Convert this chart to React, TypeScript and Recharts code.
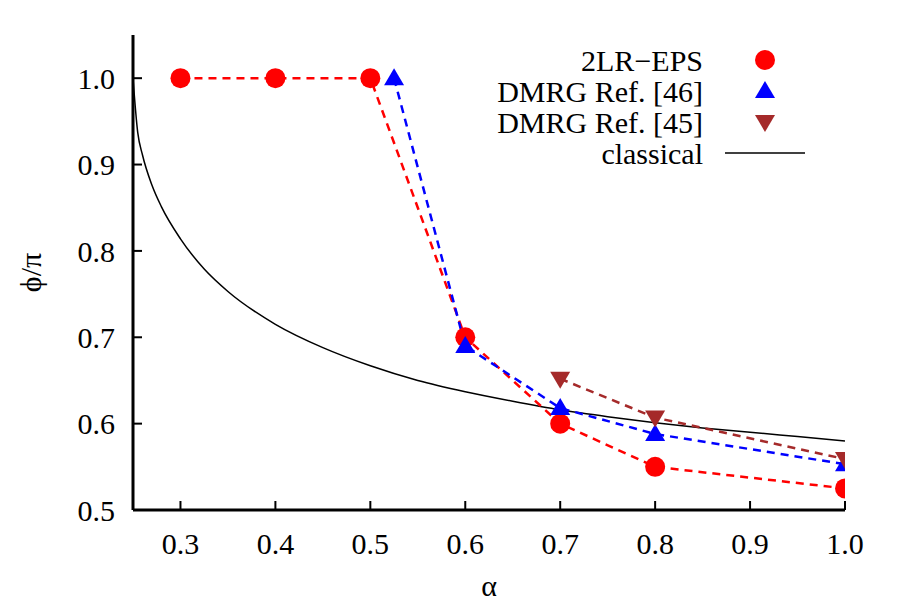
import React from "react";
import { ComposedChart, Line, XAxis, YAxis, Legend } from "recharts";

// phase angle phi/pi versus coupling alpha
const alphaTicks = [0.3, 0.4, 0.5, 0.6, 0.7, 0.8, 0.9, 1.0];
const phiTicks = [0.5, 0.6, 0.7, 0.8, 0.9, 1.0];

const epsAlpha = [0.3, 0.4, 0.5, 0.6, 0.7, 0.8, 1.0];
const epsPhi = [1.0, 1.0, 1.0, 0.7, 0.6, 0.55, 0.525];

const dmrg46Alpha = [0.525, 0.6, 0.7, 0.8, 1.0];
const dmrg46Phi = [1.0, 0.69, 0.618, 0.588, 0.553];

const dmrg45Alpha = [0.7, 0.8, 1.0];
const dmrg45Phi = [0.652, 0.607, 0.559];

const classicalAlpha = [
  0.25, 0.255, 0.26, 0.27, 0.28, 0.3, 0.325, 0.35, 0.4, 0.45, 0.5, 0.55, 0.6,
  0.65, 0.7, 0.75, 0.8, 0.85, 0.9, 0.95, 1.0,
];
const classicalPhi = [
  1.0, 0.937, 0.911, 0.876, 0.851, 0.814, 0.779, 0.753, 0.715, 0.688, 0.667,
  0.65, 0.637, 0.626, 0.616, 0.608, 0.601, 0.595, 0.59, 0.585, 0.58,
];

const zip = (xs: number[], ys: number[]) => xs.map((alpha, i) => ({ alpha, phi: ys[i] }));

const epsData = zip(epsAlpha, epsPhi);
const dmrg46Data = zip(dmrg46Alpha, dmrg46Phi);
const dmrg45Data = zip(dmrg45Alpha, dmrg45Phi);
const classicalData = zip(classicalAlpha, classicalPhi);

const RED = "#ff0000";
const BLUE = "#0000ff";
const BROWN = "#a52a2a";
const FONT = "Liberation Serif, Times New Roman, Times, serif";
const FONT_SIZE = 30;

const circle = (color: string) => (props: any) => (
  <circle key={props.key} cx={props.cx} cy={props.cy} r={10} fill={color} />
);

const upTriangle = (color: string) => (props: any) => {
  const { cx, cy, key } = props;
  return <path key={key} d={`M${cx},${cy - 10} L${cx + 10},${cy + 7} L${cx - 10},${cy + 7} Z`} fill={color} />;
};

const downTriangle = (color: string) => (props: any) => {
  const { cx, cy, key } = props;
  return <path key={key} d={`M${cx},${cy + 10} L${cx + 10},${cy - 7} L${cx - 10},${cy - 7} Z`} fill={color} />;
};

const legendItems = [
  { name: "2LR\u2212EPS", kind: "circle", color: RED },
  { name: "DMRG Ref. [46]", kind: "up", color: BLUE },
  { name: "DMRG Ref. [45]", kind: "down", color: BROWN },
  { name: "classical", kind: "line", color: "#000" },
];

const KeyBox = () => (
  <svg width={900} height={180} style={{ display: "block" }}>
    {legendItems.map((item, i) => {
      const y = 60 + i * 31;
      const x = 765;
      let sym: React.ReactNode = null;
      if (item.kind === "circle") sym = <circle cx={x} cy={y} r={10} fill={item.color} />;
      if (item.kind === "up")
        sym = <path d={`M${x},${y - 10} L${x + 10},${y + 7} L${x - 10},${y + 7} Z`} fill={item.color} />;
      if (item.kind === "down")
        sym = <path d={`M${x},${y + 10} L${x + 10},${y - 7} L${x - 10},${y - 7} Z`} fill={item.color} />;
      if (item.kind === "line") sym = <line x1={725} x2={805} y1={y} y2={y} stroke="#000" strokeWidth={1.5} />;
      return (
        <g key={item.name}>
          <text
            x={703}
            y={y}
            dy="0.35em"
            textAnchor="end"
            style={{ fontFamily: FONT, fontSize: FONT_SIZE }}
            fill="#000"
          >
            {item.name}
          </text>
          {sym}
        </g>
      );
    })}
  </svg>
);

const tickStyle = { fill: "#000", style: { fontFamily: FONT, fontSize: FONT_SIZE } };
const axisStroke = { stroke: "#000", strokeWidth: 3 };
const tickStroke = { stroke: "#000", strokeWidth: 2 };

export default function App() {
  return (
    <div style={{ position: "absolute", left: 0, top: 0, background: "#fff", fontFamily: FONT }}>
      <ComposedChart
        width={900}
        height={611}
        margin={{ top: 35, right: 55, bottom: 41, left: 53 }}
        style={{ fontFamily: FONT }}
      >
        <XAxis
          xAxisId="bottom"
          dataKey="alpha"
          type="number"
          domain={[0.25, 1.0]}
          ticks={alphaTicks}
          tickFormatter={(v: number) => v.toFixed(1)}
          allowDataOverflow
          height={60}
          tickSize={-9}
          tickMargin={32}
          tick={tickStyle}
          axisLine={axisStroke}
          tickLine={tickStroke}
          label={{
            content: ({ viewBox }: any) => (
              <text
                x={viewBox.x + viewBox.width / 2}
                y={viewBox.y + 75}
                dy="0.35em"
                textAnchor="middle"
                style={{ fontFamily: FONT, fontSize: FONT_SIZE }}
                fill="#000"
              >
                α
              </text>
            ),
          }}
        />
        <XAxis
          xAxisId="top"
          dataKey="alpha"
          type="number"
          orientation="top"
          domain={[0.25, 1.0]}
          ticks={alphaTicks}
          tickFormatter={() => ""}
          allowDataOverflow
          height={0}
          tickSize={-9}
          axisLine={axisStroke}
          tickLine={tickStroke}
        />
        <YAxis
          yAxisId="left"
          type="number"
          domain={[0.5, 1.05]}
          ticks={phiTicks}
          tickFormatter={(v: number) => v.toFixed(1)}
          allowDataOverflow
          width={80}
          tickSize={-9}
          tickMargin={27}
          tick={tickStyle}
          axisLine={axisStroke}
          tickLine={tickStroke}
          label={{
            content: ({ viewBox }: any) => {
              const cx = viewBox.x - 23;
              const cy = viewBox.y + viewBox.height / 2;
              return (
                <text
                  x={cx}
                  y={cy}
                  dy="0.35em"
                  textAnchor="middle"
                  transform={`rotate(-90 ${cx} ${cy})`}
                  style={{ fontFamily: FONT, fontSize: FONT_SIZE }}
                  fill="#000"
                >
                  ϕ/π
                </text>
              );
            },
          }}
        />
        <YAxis
          yAxisId="right"
          type="number"
          orientation="right"
          domain={[0.5, 1.05]}
          ticks={phiTicks}
          tickFormatter={() => ""}
          allowDataOverflow
          width={0}
          tickSize={-9}
          axisLine={axisStroke}
          tickLine={tickStroke}
        />
        <Legend
          layout="vertical"
          align="center"
          verticalAlign="middle"
          wrapperStyle={{ top: 0, left: 0, width: 900 }}
          content={() => <KeyBox />}
        />
        <Line
          xAxisId="bottom"
          yAxisId="left"
          data={classicalData}
          dataKey="phi"
          name="classical"
          type="monotone"
          stroke="#000"
          strokeWidth={1.5}
          dot={false}
          isAnimationActive={false}
        />
        <Line
          xAxisId="bottom"
          yAxisId="left"
          data={epsData}
          dataKey="phi"
          name="2LR−EPS"
          type="linear"
          stroke={RED}
          strokeWidth={2.5}
          strokeDasharray="8 6"
          dot={circle(RED)}
          isAnimationActive={false}
        />
        <Line
          xAxisId="bottom"
          yAxisId="left"
          data={dmrg46Data}
          dataKey="phi"
          name="DMRG Ref. [46]"
          type="linear"
          stroke={BLUE}
          strokeWidth={2.5}
          strokeDasharray="8 6"
          dot={upTriangle(BLUE)}
          isAnimationActive={false}
        />
        <Line
          xAxisId="bottom"
          yAxisId="left"
          data={dmrg45Data}
          dataKey="phi"
          name="DMRG Ref. [45]"
          type="linear"
          stroke={BROWN}
          strokeWidth={2.5}
          strokeDasharray="8 6"
          dot={downTriangle(BROWN)}
          isAnimationActive={false}
        />
      </ComposedChart>
    </div>
  );
}
